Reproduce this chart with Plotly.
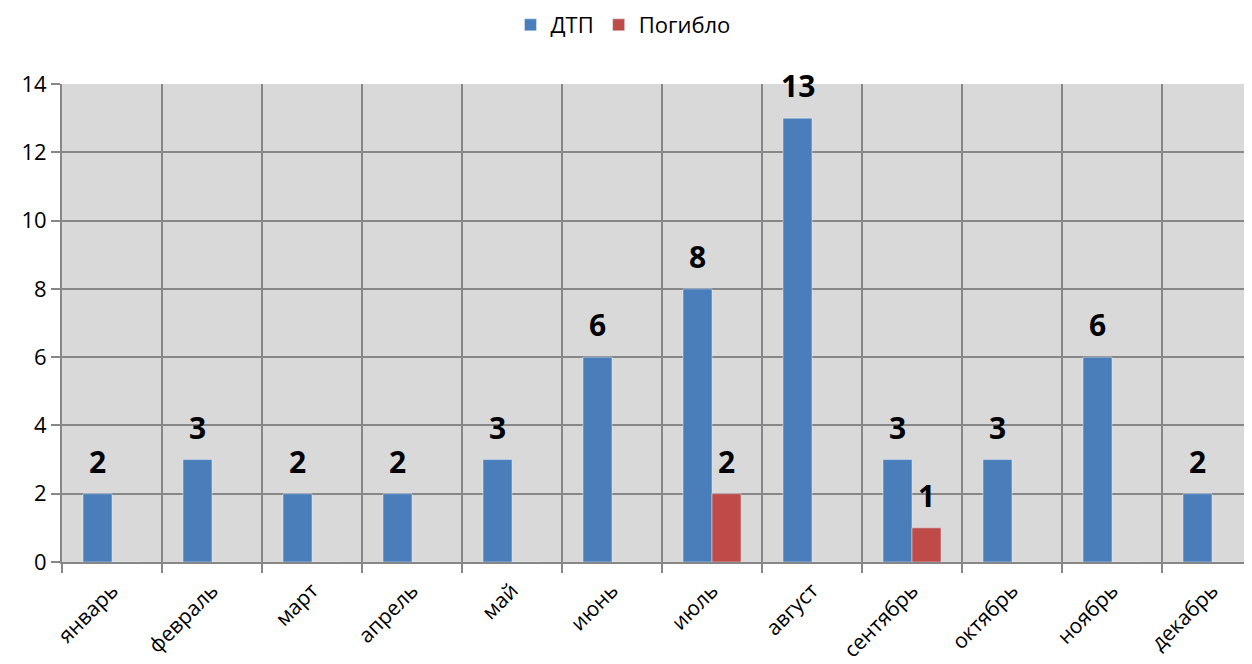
import plotly.graph_objects as go

MONTHS = ["январь", "февраль", "март", "апрель", "май", "июнь",
          "июль", "август", "сентябрь", "октябрь", "ноябрь", "декабрь"]
DTP = [2, 3, 2, 2, 3, 6, 8, 13, 3, 3, 6, 2]
DEAD = [0, 0, 0, 0, 0, 0, 2, 0, 1, 0, 0, 0]

BLUE = "#4a7ebb"
RED = "#be4b48"
GRID = "#878787"
FONT = "Open Sans, Noto Sans, Arial, sans-serif"

fig = go.Figure()
fig.add_bar(x=MONTHS, y=DTP, name="ДТП", marker_color=BLUE)
fig.add_bar(x=MONTHS, y=DEAD, name="Погибло", marker_color=RED)

# value labels above bars (zeros are not labelled), lifted like in the original
for values, shift in ((DTP, -14.5), (DEAD, 14.5)):
    for month, v in zip(MONTHS, values):
        if not v:
            continue
        fig.add_annotation(x=month, y=v, text=str(v), showarrow=False,
                           xshift=shift, yshift=10, yanchor="bottom",
                           font=dict(size=30, color="black", family=FONT, weight="bold"))

# page body has an 8px margin, so the figure is a bit smaller and shifted
fig.update_layout(
    width=1244,
    height=656,
    margin=dict(l=54, r=0, t=76, b=102, autoexpand=False),
    paper_bgcolor="white",
    plot_bgcolor="#d9d9d9",
    barmode="group",
    bargap=0.42,
    bargroupgap=0,
    font=dict(family=FONT, size=22, color="black"),
    legend=dict(orientation="h", x=0.4714, xanchor="center",
                y=0.974, yref="container", yanchor="middle",
                font=dict(size=22), itemwidth=30),
    showlegend=True,
)
fig.update_xaxes(
    range=[-0.5, 11.4],
    automargin=False,
    tickson="boundaries",
    showgrid=True,
    gridcolor=GRID,
    gridwidth=2,
    ticks="outside",
    ticklen=9,
    tickwidth=2,
    tickcolor=GRID,
    tickangle=-45,
    ticklabelstandoff=6,
    showline=True,
    linecolor=GRID,
    linewidth=2,
    tickfont=dict(size=21),
)
fig.update_yaxes(
    range=[0, 14],
    automargin=False,
    dtick=2,
    showgrid=True,
    gridcolor=GRID,
    gridwidth=2,
    zeroline=False,
    ticks="outside",
    ticklen=9,
    tickwidth=2,
    tickcolor=GRID,
    showline=True,
    linecolor=GRID,
    linewidth=2,
    tickfont=dict(size=22),
)

fig.write_html("out.html")
